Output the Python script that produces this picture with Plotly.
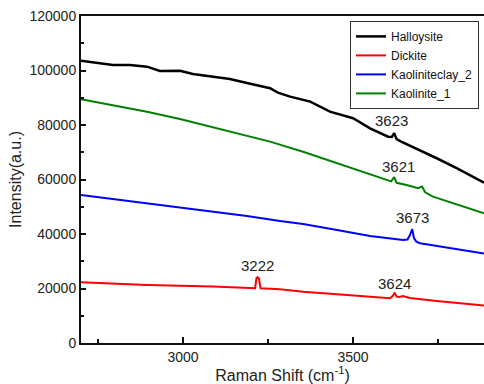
import plotly.graph_objects as go

# Halloysite (black)
hal_x = [2700, 2756, 2794, 2844, 2894, 2932, 2991, 3029, 3088, 3138, 3188, 3235, 3256, 3279, 3315, 3374, 3432,
         3500, 3550, 3603, 3614, 3621, 3628, 3640, 3697, 3746, 3806, 3885]
hal_y = [103600, 102600, 102000, 102000, 101400, 99800, 99900, 98700, 97700, 96900, 95400, 94100, 93500, 91900,
         90400, 88600, 84900, 82500, 78800, 75700, 75600, 77000, 74800, 74000, 70800, 67800, 64100, 58800]

# Dickite (red)
dic_x = [2700, 2894, 3088, 3212, 3216, 3219, 3223, 3228, 3285, 3353, 3453, 3550, 3609, 3617, 3622, 3628,
         3636, 3647, 3658, 3667, 3746, 3885]
dic_y = [22300, 21300, 20700, 20100, 23800, 24100, 23800, 20100, 19700, 18800, 17900, 17000, 16400, 17300,
         18500, 17000, 16900, 17200, 16700, 16500, 15400, 13800]

# Kaoliniteclay_2 (blue)
kc2_x = [2700, 2794, 2894, 2991, 3088, 3188, 3285, 3353, 3453, 3550, 3647, 3660, 3667, 3674, 3679, 3686,
         3697, 3794, 3885]
kc2_y = [54300, 52800, 51300, 49800, 48200, 46600, 44800, 43700, 41500, 39300, 37800, 38000, 39500, 41800,
         38500, 37200, 36600, 34700, 32800]

# Kaolinite_1 (green)
ka1_x = [2700, 2794, 2894, 2991, 3050, 3150, 3256, 3353, 3453, 3550, 3612, 3621, 3628, 3660, 3691, 3703,
         3712, 3735, 3785, 3885]
ka1_y = [89500, 87300, 84900, 82200, 80400, 77300, 73900, 70200, 65900, 61700, 59300, 60900, 58800, 57900,
         56800, 57400, 55300, 53700, 51600, 47600]

peak_labels = ["3623", "3621", "3673", "3222", "3624"]
peak_x = [3614, 3634, 3674, 3218, 3621]
peak_y = [81800, 64600, 45900, 28600, 21700]

FONT = "Liberation Sans, Arial, sans-serif"

fig = go.Figure()
fig.add_trace(go.Scatter(x=hal_x, y=hal_y, mode="lines", name="Halloysite",
                         line=dict(color="#000000", width=2.5)))
fig.add_trace(go.Scatter(x=dic_x, y=dic_y, mode="lines", name="Dickite",
                         line=dict(color="#ff0000", width=2)))
fig.add_trace(go.Scatter(x=kc2_x, y=kc2_y, mode="lines", name="Kaoliniteclay_2",
                         line=dict(color="#0000ff", width=2)))
fig.add_trace(go.Scatter(x=ka1_x, y=ka1_y, mode="lines", name="Kaolinite_1",
                         line=dict(color="#008000", width=2)))

for t, x, y in zip(peak_labels, peak_x, peak_y):
    fig.add_annotation(x=x, y=y, text=t, showarrow=False,
                       font=dict(family=FONT, size=15, color="#222"),
                       xanchor="center", yanchor="middle")

fig.update_layout(
    width=484, height=384,
    margin=dict(l=81, r=0, t=16, b=41),
    paper_bgcolor="white", plot_bgcolor="white",
    font=dict(family=FONT, color="#222"),
    showlegend=True,
    legend=dict(x=0.6675, y=0.985, xanchor="left", yanchor="top",
                bgcolor="white", bordercolor="#333", borderwidth=1,
                font=dict(family=FONT, size=12, color="#111"),
                itemwidth=30, tracegroupgap=0),
    xaxis=dict(range=[2700, 3885], showgrid=False, zeroline=False,
               showline=True, linecolor="#111", linewidth=2, mirror=True,
               tickmode="linear", tick0=0, dtick=500,
               ticks="inside", ticklen=6, tickwidth=1.5, tickcolor="#111",
               minor=dict(dtick=250, tick0=0, ticks="inside", ticklen=4, tickwidth=1.5, tickcolor="#111"),
               tickfont=dict(family=FONT, size=14, color="#222"),
               title=dict(text="Raman Shift (cm<sup>-1</sup>)", standoff=4,
                          font=dict(family=FONT, size=16, color="#222"))),
    yaxis=dict(range=[0, 120000], showgrid=False, zeroline=False,
               showline=True, linecolor="#111", linewidth=2,
               tickmode="linear", tick0=0, dtick=20000, tickformat="d",
               ticks="inside", ticklen=5, tickwidth=1.5, tickcolor="#111",
               minor=dict(dtick=10000, ticks="inside", ticklen=3, tickwidth=1.5, tickcolor="#111"),
               tickfont=dict(family=FONT, size=14, color="#222"),
               title=dict(text="Intensity(a.u.)", standoff=4,
                          font=dict(family=FONT, size=16, color="#222"))),
)

fig.write_html("out.html")
